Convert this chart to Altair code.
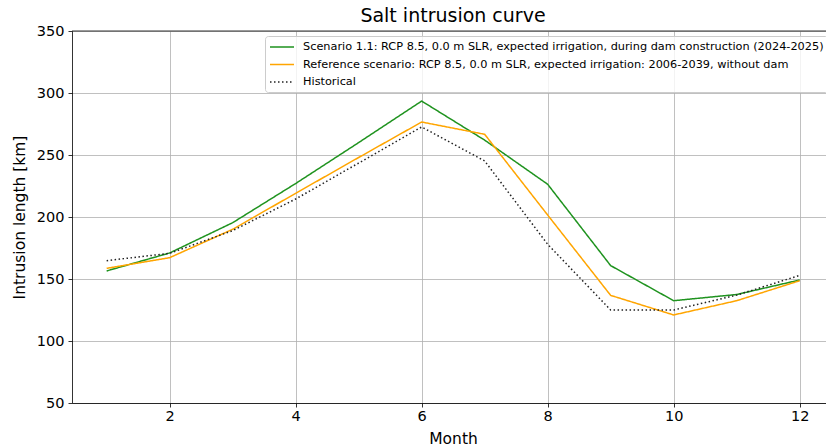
import altair as alt
import pandas as pd

months = list(range(1, 13))
scenario = [156.5, 171.0, 195.4, 227.0, 260.0, 293.5, 262.0, 226.4, 160.8, 132.5, 137.5, 149.2]
reference = [158.6, 167.2, 190.1, 219.1, 248.0, 276.6, 266.7, 201.6, 136.8, 121.0, 132.5, 148.6]
historical = [164.8, 170.7, 189.0, 214.5, 243.5, 272.6, 245.2, 178.0, 125.0, 125.0, 137.0, 152.9]

names = [
    "Scenario 1.1: RCP 8.5, 0.0 m SLR, expected irrigation, during dam construction (2024-2025)",
    "Reference scenario: RCP 8.5, 0.0 m SLR, expected irrigation: 2006-2039, without dam",
    "Historical",
]
colors = ["#1f931f", "#ffa500", "#222222"]
dashes = [[1, 0], [1, 0], [1.5, 2.5]]

rows = []
for name, vals in zip(names, [scenario, reference, historical]):
    for m, v in zip(months, vals):
        rows.append({"month": m, "value": v, "series": name})
df = pd.DataFrame(rows)

FONT = "DejaVu Sans"
xscale = alt.Scale(domain=[0.45, 12.418], nice=False, zero=False)
yscale = alt.Scale(domain=[50, 350], nice=False, zero=False)

lines = alt.Chart(df).mark_line(strokeWidth=1.5, clip=True).encode(
    x=alt.X("month:Q", scale=xscale,
            axis=alt.Axis(title="Month", values=[2, 4, 6, 8, 10, 12], format="d",
                          titleX=381, titleY=40, titleBaseline="alphabetic",
                          titleAnchor="start", titleAlign="center")),
    y=alt.Y("value:Q", scale=yscale,
            axis=alt.Axis(title="Intrusion length [km]", values=[50, 100, 150, 200, 250, 300, 350],
                          titleX=-53, titleY=186, titleAlign="center", titleBaseline="middle")),
    color=alt.Color("series:N", scale=alt.Scale(domain=names, range=colors),
                    legend=alt.Legend(title=None, orient="none", legendX=193, legendY=5,
                                      symbolType="M-1,0H3", symbolSize=144,
                                      symbolStrokeWidth=1.5, labelOffset=20,
                                      labelFont=FONT, labelFontSize=11.3, labelLimit=1000,
                                      rowPadding=4.5, padding=4,
                                      fillColor="rgba(255,255,255,0.8)",
                                      strokeColor="#cccccc", cornerRadius=3)),
    strokeDash=alt.StrokeDash("series:N", scale=alt.Scale(domain=names, range=dashes), legend=None),
)

topline = alt.Chart(pd.DataFrame({"v": [350]})).mark_rule(color="black", strokeWidth=0.8).encode(
    y=alt.Y("v:Q", scale=yscale)
)

chart = alt.layer(topline, lines).properties(
    width=754, height=372,
    title=alt.TitleParams("Salt intrusion curve", font=FONT, fontSize=19, fontWeight="normal",
                          color="black", dx=4, dy=25, offset=7.5, frame="group",
                          baseline="alphabetic"),
    autosize=alt.AutoSizeParams(type="none"),
    padding={"left": 72, "top": 31, "right": 0, "bottom": 44},
).configure_view(stroke=None).configure_axis(
    labelFont=FONT, labelFontSize=14.5, labelColor="black",
    titleFont=FONT, titleFontSize=15.5, titleColor="black", titleFontWeight="normal",
    domainColor="black", domainWidth=0.8, tickColor="black", tickWidth=0.8, tickSize=4,
    labelPadding=3, grid=True, gridColor="#b0b0b0", gridWidth=0.8,
).configure_axisX(labelPadding=2).configure_axisY(labelPadding=4)

chart.save("out.html", embed_options={"renderer": "svg", "actions": False})
